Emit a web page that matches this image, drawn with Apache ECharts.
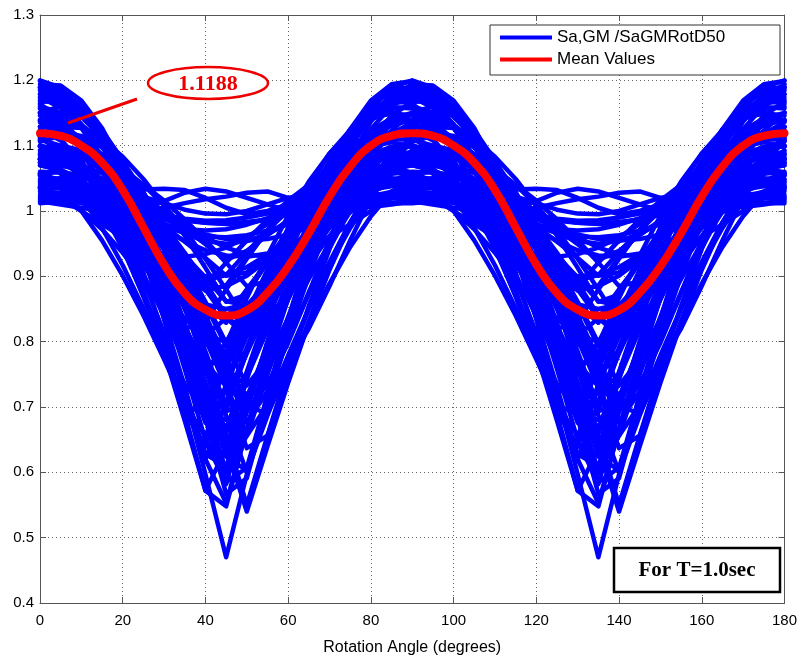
<!DOCTYPE html>
<html>
<head>
<meta charset="utf-8">
<title>Sa,GM / SaGMRotD50 vs rotation angle</title>
<script src="https://cdn.jsdelivr.net/npm/echarts@6/dist/echarts.min.js"></script>
<style>
    html, body { margin: 0; padding: 0; background: #fff; }
    #chart { width: 800px; height: 661px; }
</style>
</head>
<body>
<div id="chart"></div>
<script>
// rotation angle (degrees), one sample every 5 degrees
var angles = [0, 5, 10, 15, 20, 25, 30, 35, 40, 45, 50, 55, 60, 65, 70, 75, 80, 85, 90,
    95, 100, 105, 110, 115, 120, 125, 130, 135, 140, 145, 150, 155, 160, 165, 170, 175, 180];

// Sa,GM / SaGMRotD50 per record, read at 0..90 deg (the picture repeats every 90 deg)
var rec01 = [1.200, 1.189, 1.156, 1.102, 1.029, 0.939, 0.835, 0.720, 0.597, 0.470, 0.597, 0.720, 0.835, 0.939, 1.029, 1.102, 1.156, 1.189, 1.200];
var rec02 = [1.189, 1.169, 1.131, 1.072, 0.996, 0.906, 0.802, 0.690, 0.572, 0.548, 0.667, 0.781, 0.886, 0.980, 1.058, 1.120, 1.163, 1.187, 1.189];
var rec03 = [1.179, 1.177, 1.155, 1.115, 1.058, 0.985, 0.898, 0.800, 0.695, 0.585, 0.607, 0.717, 0.820, 0.916, 1.000, 1.071, 1.125, 1.161, 1.179];
var rec04 = [1.164, 1.140, 1.097, 1.039, 0.965, 0.879, 0.783, 0.679, 0.572, 0.636, 0.742, 0.841, 0.932, 1.011, 1.076, 1.125, 1.156, 1.169, 1.164];
var rec05 = [1.151, 1.160, 1.151, 1.123, 1.078, 1.017, 0.942, 0.855, 0.759, 0.656, 0.550, 0.656, 0.759, 0.855, 0.942, 1.017, 1.078, 1.123, 1.151];
var rec06 = [1.189, 1.184, 1.160, 1.119, 1.061, 0.988, 0.903, 0.809, 0.707, 0.601, 0.665, 0.768, 0.866, 0.956, 1.033, 1.097, 1.145, 1.177, 1.189];
var rec07 = [1.138, 1.111, 1.069, 1.014, 0.946, 0.869, 0.784, 0.694, 0.639, 0.730, 0.819, 0.901, 0.975, 1.038, 1.088, 1.124, 1.145, 1.149, 1.138];
var rec08 = [1.114, 1.129, 1.127, 1.109, 1.076, 1.029, 0.968, 0.896, 0.816, 0.728, 0.637, 0.656, 0.746, 0.832, 0.912, 0.981, 1.039, 1.084, 1.114];
var rec09 = [1.140, 1.129, 1.104, 1.066, 1.014, 0.952, 0.880, 0.801, 0.718, 0.667, 0.752, 0.834, 0.910, 0.978, 1.036, 1.083, 1.116, 1.135, 1.140];
var rec10 = [1.113, 1.090, 1.053, 1.003, 0.942, 0.870, 0.791, 0.707, 0.620, 0.707, 0.791, 0.870, 0.942, 1.003, 1.053, 1.090, 1.113, 1.120, 1.113];
var rec11 = [1.058, 1.035, 1.000, 0.955, 0.901, 0.840, 0.773, 0.703, 0.689, 0.759, 0.827, 0.889, 0.945, 0.992, 1.029, 1.054, 1.068, 1.069, 1.058];
var rec12 = [1.054, 1.068, 1.069, 1.058, 1.035, 1.000, 0.955, 0.901, 0.840, 0.773, 0.703, 0.689, 0.759, 0.827, 0.889, 0.945, 0.992, 1.029, 1.054];
var rec13 = [1.179, 1.166, 1.133, 1.081, 1.013, 0.930, 0.835, 0.731, 0.620, 0.553, 0.665, 0.774, 0.875, 0.965, 1.042, 1.104, 1.148, 1.174, 1.179];
var rec14 = [1.167, 1.169, 1.152, 1.118, 1.066, 0.999, 0.919, 0.827, 0.728, 0.624, 0.603, 0.708, 0.808, 0.901, 0.984, 1.053, 1.108, 1.146, 1.167];
var rec15 = [1.157, 1.140, 1.107, 1.061, 1.001, 0.931, 0.852, 0.766, 0.676, 0.695, 0.784, 0.868, 0.946, 1.014, 1.071, 1.115, 1.144, 1.159, 1.157];
var rec16 = [1.129, 1.128, 1.113, 1.087, 1.048, 0.999, 0.940, 0.875, 0.804, 0.730, 0.745, 0.819, 0.888, 0.953, 1.009, 1.056, 1.093, 1.117, 1.129];
var rec17 = [1.099, 1.090, 1.071, 1.042, 1.004, 0.960, 0.909, 0.854, 0.796, 0.784, 0.842, 0.898, 0.950, 0.996, 1.035, 1.066, 1.087, 1.098, 1.099];
var rec18 = [1.087, 1.090, 1.084, 1.069, 1.046, 1.015, 0.979, 0.936, 0.890, 0.840, 0.810, 0.860, 0.909, 0.954, 0.994, 1.029, 1.056, 1.076, 1.087];
var rec19 = [1.070, 1.063, 1.044, 1.015, 0.979, 0.941, 0.905, 0.876, 0.857, 0.850, 0.857, 0.876, 0.905, 0.941, 0.979, 1.015, 1.044, 1.063, 1.070];
var rec20 = [1.047, 1.036, 1.017, 0.993, 0.967, 0.942, 0.921, 0.906, 0.900, 0.903, 0.914, 0.933, 0.957, 0.983, 1.008, 1.029, 1.043, 1.050, 1.047];
var rec21 = [1.038, 1.040, 1.035, 1.025, 1.009, 0.991, 0.972, 0.954, 0.940, 0.932, 0.930, 0.935, 0.946, 0.961, 0.979, 0.998, 1.016, 1.030, 1.038];
var rec22 = [1.100, 1.091, 1.065, 1.025, 0.976, 0.924, 0.875, 0.835, 0.809, 0.800, 0.809, 0.835, 0.875, 0.924, 0.976, 1.025, 1.065, 1.091, 1.100];
var rec23 = [1.108, 1.120, 1.108, 1.073, 1.020, 0.955, 0.885, 0.820, 0.767, 0.732, 0.720, 0.732, 0.767, 0.820, 0.885, 0.955, 1.020, 1.073, 1.108];
var rec24 = [1.150, 1.136, 1.095, 1.033, 0.956, 0.874, 0.798, 0.735, 0.694, 0.680, 0.694, 0.735, 0.798, 0.874, 0.956, 1.033, 1.095, 1.136, 1.150];
var rec25 = [1.055, 1.039, 1.015, 0.986, 0.954, 0.925, 0.901, 0.885, 0.880, 0.885, 0.901, 0.925, 0.954, 0.986, 1.015, 1.039, 1.055, 1.060, 1.055];
var rec26 = [1.012, 1.015, 1.020, 1.026, 1.030, 1.033, 1.034, 1.032, 1.020, 1.005, 0.995, 1.000, 1.010, 1.015, 1.015, 1.013, 1.012, 1.012, 1.012];
var rec27 = [1.020, 1.018, 1.012, 1.005, 1.000, 1.005, 1.015, 1.028, 1.034, 1.030, 1.020, 1.010, 1.000, 0.998, 1.000, 1.008, 1.015, 1.020, 1.020];
var rec28 = [1.015, 1.010, 1.005, 1.000, 0.995, 0.998, 1.005, 1.012, 1.018, 1.022, 1.028, 1.030, 1.020, 1.010, 1.005, 1.004, 1.006, 1.010, 1.015];
var rec29 = [1.030, 1.027, 1.020, 1.010, 0.999, 0.987, 0.975, 0.967, 0.961, 0.960, 0.963, 0.970, 0.980, 0.991, 1.003, 1.015, 1.023, 1.029, 1.030];
var rec30 = [1.080, 1.077, 1.063, 1.040, 1.008, 0.967, 0.920, 0.868, 0.811, 0.752, 0.787, 0.845, 0.899, 0.949, 0.993, 1.028, 1.055, 1.073, 1.080];
var rec31 = [1.110, 1.120, 1.115, 1.097, 1.066, 1.022, 0.968, 0.904, 0.833, 0.756, 0.676, 0.724, 0.802, 0.876, 0.943, 1.002, 1.050, 1.086, 1.110];
var rec32 = [1.194, 1.192, 1.169, 1.127, 1.066, 0.989, 0.897, 0.795, 0.683, 0.567, 0.591, 0.706, 0.816, 0.917, 1.005, 1.080, 1.137, 1.175, 1.194];
var rec33 = [1.045, 1.044, 1.039, 1.029, 1.015, 0.998, 0.977, 0.953, 0.928, 0.901, 0.906, 0.933, 0.958, 0.981, 1.001, 1.018, 1.032, 1.040, 1.045];
var rec34 = [1.124, 1.108, 1.077, 1.030, 0.969, 0.896, 0.813, 0.723, 0.628, 0.609, 0.704, 0.796, 0.880, 0.956, 1.019, 1.069, 1.103, 1.122, 1.124];
var rec35 = [1.185, 1.176, 1.150, 1.107, 1.048, 0.976, 0.893, 0.800, 0.702, 0.600, 0.702, 0.800, 0.893, 0.976, 1.048, 1.107, 1.150, 1.176, 1.185];
var rec36 = [1.025, 1.024, 1.020, 1.014, 1.007, 1.000, 0.993, 0.988, 0.985, 0.986, 0.990, 0.996, 1.003, 1.010, 1.017, 1.022, 1.025, 1.026, 1.025];
var rec37 = [1.090, 1.084, 1.070, 1.049, 1.021, 0.986, 0.947, 0.903, 0.858, 0.829, 0.876, 0.921, 0.963, 1.001, 1.033, 1.058, 1.077, 1.087, 1.090];
var rec38 = [1.060, 1.059, 1.053, 1.044, 1.030, 1.014, 0.994, 0.973, 0.949, 0.925, 0.939, 0.963, 0.986, 1.006, 1.024, 1.039, 1.050, 1.057, 1.060];
var rec39 = [1.033, 1.035, 1.033, 1.026, 1.015, 1.002, 0.988, 0.975, 0.964, 0.957, 0.955, 0.957, 0.964, 0.975, 0.988, 1.002, 1.015, 1.026, 1.033];
var rec40 = [1.018, 1.022, 1.028, 1.032, 1.030, 1.022, 1.012, 1.002, 0.996, 0.995, 1.000, 1.010, 1.020, 1.026, 1.028, 1.026, 1.022, 1.019, 1.018];
var rec41 = [1.146, 1.130, 1.102, 1.063, 1.014, 0.957, 0.894, 0.825, 0.754, 0.797, 0.867, 0.932, 0.993, 1.045, 1.088, 1.120, 1.141, 1.150, 1.146];
var rec42 = [1.136, 1.140, 1.130, 1.108, 1.073, 1.027, 0.971, 0.906, 0.836, 0.761, 0.715, 0.792, 0.865, 0.933, 0.994, 1.047, 1.089, 1.118, 1.136];
var rec43 = [1.109, 1.100, 1.085, 1.062, 1.034, 1.000, 0.962, 0.921, 0.878, 0.886, 0.929, 0.970, 1.007, 1.040, 1.067, 1.089, 1.103, 1.110, 1.109];
var rec44 = [1.190, 1.183, 1.161, 1.124, 1.075, 1.015, 0.945, 0.868, 0.785, 0.700, 0.785, 0.868, 0.945, 1.015, 1.075, 1.124, 1.161, 1.183, 1.190];
var rec45 = [1.043, 1.036, 1.026, 1.014, 1.001, 0.989, 0.979, 0.972, 0.970, 0.972, 0.979, 0.989, 1.001, 1.014, 1.026, 1.036, 1.043, 1.045, 1.043];
var rec46 = [1.100, 1.093, 1.072, 1.037, 0.990, 0.932, 0.865, 0.791, 0.712, 0.630, 0.712, 0.791, 0.865, 0.932, 0.990, 1.037, 1.072, 1.093, 1.100];
var rec47 = [1.150, 1.146, 1.132, 1.107, 1.072, 1.028, 0.976, 0.919, 0.857, 0.793, 0.831, 0.894, 0.954, 1.008, 1.055, 1.094, 1.123, 1.142, 1.150];
var rec48 = [1.075, 1.071, 1.060, 1.044, 1.023, 1.002, 0.981, 0.965, 0.954, 0.950, 0.954, 0.965, 0.981, 1.002, 1.023, 1.044, 1.060, 1.071, 1.075];
var rec49 = [1.129, 1.125, 1.103, 1.066, 1.013, 0.948, 0.872, 0.786, 0.694, 0.599, 0.656, 0.750, 0.838, 0.919, 0.989, 1.046, 1.090, 1.118, 1.129];
var rec50 = [1.070, 1.063, 1.047, 1.023, 0.990, 0.951, 0.905, 0.856, 0.803, 0.771, 0.824, 0.876, 0.924, 0.967, 1.004, 1.034, 1.055, 1.067, 1.070];
var rec51 = [1.099, 1.081, 1.051, 1.010, 0.960, 0.903, 0.839, 0.770, 0.700, 0.770, 0.839, 0.903, 0.960, 1.010, 1.051, 1.081, 1.099, 1.105, 1.099];
var rec52 = [1.087, 1.095, 1.091, 1.077, 1.051, 1.016, 0.971, 0.919, 0.861, 0.798, 0.733, 0.772, 0.836, 0.896, 0.951, 0.999, 1.038, 1.068, 1.087];
var rec53 = [1.160, 1.151, 1.131, 1.099, 1.057, 1.006, 0.948, 0.884, 0.816, 0.774, 0.843, 0.910, 0.972, 1.028, 1.075, 1.113, 1.140, 1.156, 1.160];
var rec54 = [1.174, 1.158, 1.127, 1.080, 1.019, 0.946, 0.863, 0.773, 0.678, 0.659, 0.754, 0.846, 0.930, 1.006, 1.069, 1.119, 1.153, 1.172, 1.174];
var rec55 = [1.049, 1.050, 1.044, 1.032, 1.014, 0.991, 0.963, 0.932, 0.898, 0.862, 0.855, 0.891, 0.925, 0.957, 0.986, 1.010, 1.029, 1.042, 1.049];
var rec56 = [1.199, 1.186, 1.153, 1.103, 1.036, 0.954, 0.860, 0.758, 0.649, 0.582, 0.693, 0.800, 0.899, 0.988, 1.064, 1.125, 1.169, 1.194, 1.199];
var rec57 = [1.106, 1.115, 1.106, 1.081, 1.038, 0.980, 0.910, 0.828, 0.737, 0.640, 0.540, 0.640, 0.737, 0.828, 0.910, 0.980, 1.038, 1.081, 1.106];
var rec58 = [1.022, 1.020, 1.016, 1.010, 1.003, 0.996, 0.990, 0.985, 0.982, 0.981, 0.983, 0.987, 0.994, 1.002, 1.010, 1.016, 1.020, 1.022, 1.022];
var rec59 = [1.084, 1.077, 1.064, 1.046, 1.022, 0.995, 0.963, 0.930, 0.894, 0.902, 0.937, 0.970, 1.001, 1.027, 1.050, 1.067, 1.079, 1.085, 1.084];
var rec60 = [1.139, 1.139, 1.128, 1.110, 1.083, 1.049, 1.008, 0.962, 0.913, 0.861, 0.872, 0.923, 0.971, 1.016, 1.056, 1.089, 1.114, 1.131, 1.139];
var rec61 = [1.036, 1.020, 1.000, 0.980, 0.960, 0.944, 0.934, 0.930, 0.934, 0.944, 0.960, 0.980, 1.000, 1.020, 1.036, 1.046, 1.050, 1.046, 1.036];
var rec62 = [1.036, 1.046, 1.050, 1.046, 1.036, 1.020, 1.000, 0.980, 0.960, 0.944, 0.934, 0.930, 0.934, 0.944, 0.960, 0.980, 1.000, 1.020, 1.036];
var rec63 = [1.074, 1.062, 1.044, 1.021, 0.993, 0.962, 0.928, 0.892, 0.885, 0.921, 0.955, 0.987, 1.016, 1.040, 1.059, 1.072, 1.079, 1.080, 1.074];
var rec64 = [1.074, 1.080, 1.079, 1.072, 1.059, 1.040, 1.016, 0.987, 0.955, 0.921, 0.885, 0.892, 0.928, 0.962, 0.993, 1.021, 1.044, 1.062, 1.074];
var rec65 = [1.079, 1.089, 1.089, 1.081, 1.065, 1.040, 1.009, 0.971, 0.927, 0.880, 0.830, 0.820, 0.870, 0.918, 0.962, 1.002, 1.035, 1.061, 1.079];
var rec66 = [1.079, 1.061, 1.035, 1.002, 0.962, 0.918, 0.870, 0.820, 0.830, 0.880, 0.927, 0.971, 1.009, 1.040, 1.065, 1.081, 1.089, 1.089, 1.079];
var rec67 = [1.129, 1.128, 1.112, 1.083, 1.040, 0.987, 0.923, 0.851, 0.774, 0.693, 0.709, 0.790, 0.866, 0.936, 0.998, 1.050, 1.090, 1.116, 1.129];
var rec68 = [1.099, 1.087, 1.064, 1.028, 0.982, 0.927, 0.864, 0.796, 0.724, 0.709, 0.782, 0.851, 0.915, 0.972, 1.020, 1.058, 1.084, 1.098, 1.099];
var rec69 = [1.040, 1.038, 1.033, 1.025, 1.015, 1.005, 0.995, 0.987, 0.982, 0.980, 0.982, 0.987, 0.995, 1.005, 1.015, 1.025, 1.033, 1.038, 1.040];
var rec70 = [1.170, 1.164, 1.144, 1.112, 1.069, 1.016, 0.955, 0.887, 0.815, 0.740, 0.815, 0.887, 0.955, 1.016, 1.069, 1.112, 1.144, 1.164, 1.170];
var rec71 = [1.057, 1.047, 1.030, 1.005, 0.974, 0.938, 0.898, 0.854, 0.809, 0.836, 0.880, 0.922, 0.960, 0.993, 1.020, 1.041, 1.054, 1.060, 1.057];
var rec72 = [1.057, 1.060, 1.054, 1.041, 1.020, 0.993, 0.960, 0.922, 0.880, 0.836, 0.809, 0.854, 0.898, 0.938, 0.974, 1.005, 1.030, 1.047, 1.057];
var rec73 = [1.080, 1.057, 1.022, 0.974, 0.917, 0.851, 0.779, 0.703, 0.656, 0.734, 0.809, 0.879, 0.941, 0.995, 1.037, 1.068, 1.086, 1.090, 1.080];
var rec74 = [1.080, 1.090, 1.086, 1.068, 1.037, 0.995, 0.941, 0.879, 0.809, 0.734, 0.656, 0.703, 0.779, 0.851, 0.917, 0.974, 1.022, 1.057, 1.080];
var rec75 = [1.093, 1.100, 1.093, 1.070, 1.033, 0.983, 0.922, 0.850, 0.771, 0.687, 0.600, 0.687, 0.771, 0.850, 0.922, 0.983, 1.033, 1.070, 1.093];
var rec76 = [1.036, 1.023, 1.001, 0.972, 0.936, 0.895, 0.849, 0.800, 0.750, 0.800, 0.849, 0.895, 0.936, 0.972, 1.001, 1.023, 1.036, 1.040, 1.036];

// mean of all records, 0..90 deg
var meanValues = [1.119, 1.115, 1.100, 1.074, 1.032, 0.975, 0.918, 0.874, 0.849, 0.840, 0.848, 0.875, 0.915, 0.966, 1.022, 1.068, 1.100, 1.115, 1.119];

var records = [rec01, rec02, rec03, rec04, rec05, rec06, rec07, rec08, rec09, rec10, rec11, rec12,
    rec13, rec14, rec15, rec16, rec17, rec18, rec19, rec20, rec21, rec22, rec23, rec24,
    rec25, rec26, rec27, rec28, rec29, rec30, rec31, rec32, rec33, rec34, rec35, rec36,
    rec37, rec38, rec39, rec40, rec41, rec42, rec43, rec44, rec45, rec46, rec47, rec48,
    rec49, rec50, rec51, rec52, rec53, rec54, rec55, rec56, rec57, rec58, rec59, rec60,
    rec61, rec62, rec63, rec64, rec65, rec66, rec67, rec68, rec69, rec70, rec71, rec72,
    rec73, rec74, rec75, rec76];

var BLUE_NAME = 'Sa,GM /SaGMRotD50';
var MEAN_NAME = 'Mean Values';
var SANS = '"Liberation Sans", Arial, sans-serif';
var SERIF = '"Liberation Serif", "Times New Roman", serif';

/**
 * 把 0..90 度的读数铺到 0..180 度 (每 90 度重复)
 */
function toPoints(row) {
    return angles.map(function (a, i) {
        return [a, row[i % 18]];
    });
}

var series = records.map(function (row) {
    return {
        name: BLUE_NAME,
        type: 'line',
        data: toPoints(row),
        symbol: 'none',
        silent: true,
        z: 2,
        itemStyle: {color: '#0000ff'},
        lineStyle: {color: '#0000ff', width: 4.5, join: 'round', cap: 'round'}
    };
});
series.push({
    name: MEAN_NAME,
    type: 'line',
    data: toPoints(meanValues),
    smooth: true,
    symbol: 'none',
    silent: true,
    z: 3,
    itemStyle: {color: '#ff0000'},
    lineStyle: {color: '#ff0000', width: 8, join: 'round', cap: 'round'}
});

var axisLineStyle = {color: '#555', width: 1};
var gridLineStyle = {type: [1, 3], color: '#666', width: 1};

var myChart = echarts.init(document.getElementById('chart'), null, {renderer: 'canvas'});
var option = {
    animation: false,
    backgroundColor: '#fff',
    grid: {left: 40, right: 13, top: 15, bottom: 58},
    legend: {
        data: [BLUE_NAME, MEAN_NAME],
        orient: 'vertical',
        left: 500,
        top: 29,
        padding: 0,
        itemGap: 5,
        itemWidth: 52,
        itemHeight: 4,
        icon: 'rect',
        selectedMode: false,
        textStyle: {fontFamily: SANS, fontSize: 17, color: '#000'},
        z: 20
    },
    xAxis: [{
        type: 'value',
        position: 'bottom',
        min: 0,
        max: 180,
        interval: 20,
        name: 'Rotation Angle (degrees)',
        nameLocation: 'middle',
        nameGap: 37,
        nameTextStyle: {fontFamily: SANS, fontSize: 16, color: '#000'},
        axisLine: {show: true, onZero: false, lineStyle: axisLineStyle},
        axisTick: {show: true, inside: true, length: 6, lineStyle: axisLineStyle},
        axisLabel: {margin: 10, fontFamily: SANS, fontSize: 15, color: '#000'},
        splitLine: {show: true, lineStyle: gridLineStyle}
    }, {
        type: 'value',
        position: 'top',
        min: 0,
        max: 180,
        interval: 20,
        axisLine: {show: true, onZero: false, lineStyle: axisLineStyle},
        axisTick: {show: true, inside: true, length: 6, lineStyle: axisLineStyle},
        axisLabel: {show: false},
        splitLine: {show: false}
    }],
    yAxis: [{
        type: 'value',
        position: 'left',
        min: 0.4,
        max: 1.3,
        interval: 0.1,
        axisLine: {show: true, onZero: false, lineStyle: axisLineStyle},
        axisTick: {show: true, inside: true, length: 6, lineStyle: axisLineStyle},
        axisLabel: {
            margin: 6, fontFamily: SANS, fontSize: 15, color: '#000',
            formatter: function (v) {
                return String(+v.toFixed(1));
            }
        },
        splitLine: {show: true, lineStyle: gridLineStyle}
    }, {
        type: 'value',
        position: 'right',
        min: 0.4,
        max: 1.3,
        interval: 0.1,
        axisLine: {show: true, onZero: false, lineStyle: axisLineStyle},
        axisTick: {show: true, inside: true, length: 6, lineStyle: axisLineStyle},
        axisLabel: {show: false},
        splitLine: {show: false}
    }],
    graphic: [
        // legend frame
        {type: 'rect', z: 10, shape: {x: 490, y: 25, width: 290, height: 50},
            style: {fill: '#fff', stroke: '#333', lineWidth: 1}},
        // 1.1188 call-out
        {type: 'line', z: 10, shape: {x1: 68, y1: 123, x2: 137, y2: 99},
            style: {stroke: '#ee0000', lineWidth: 3}},
        {type: 'ellipse', z: 10, shape: {cx: 208, cy: 83, rx: 60, ry: 16},
            style: {fill: '#fff', stroke: '#ee0000', lineWidth: 2.5}},
        {type: 'text', z: 11, style: {x: 208, y: 84, text: '1.1188', fill: '#ee0000',
            fontFamily: SERIF, fontWeight: 'bold', fontSize: 22, align: 'center', verticalAlign: 'middle'}},
        // period box
        {type: 'rect', z: 10, shape: {x: 614, y: 548, width: 166, height: 44},
            style: {fill: '#fff', stroke: '#000', lineWidth: 2.5}},
        {type: 'text', z: 11, style: {x: 697, y: 571, text: 'For T=1.0sec', fill: '#000',
            fontFamily: SERIF, fontWeight: 'bold', fontSize: 21, align: 'center', verticalAlign: 'middle'}}
    ],
    series: series
};
myChart.setOption(option, true);
</script>
</body>
</html>
